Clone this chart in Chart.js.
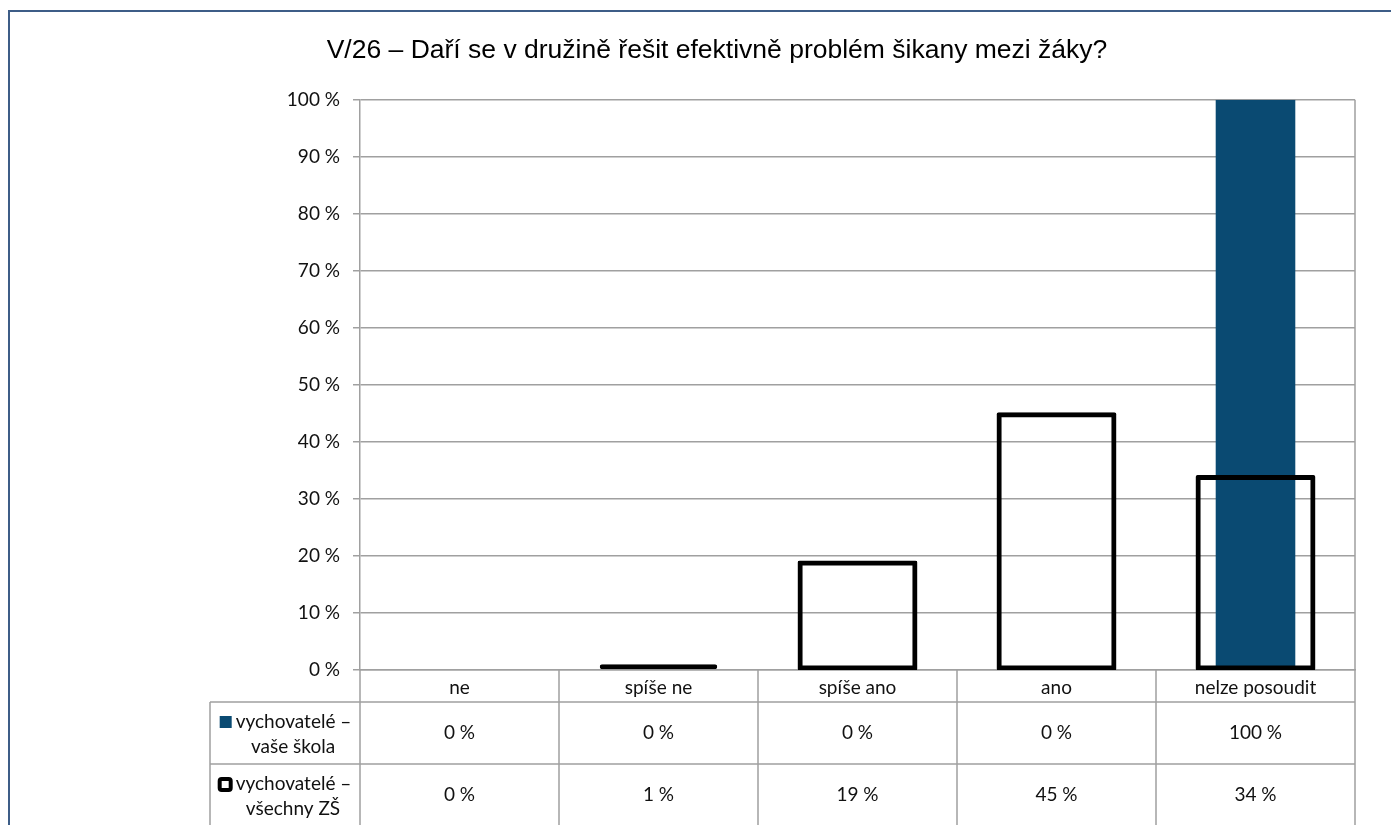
<!DOCTYPE html>
<html lang="cs">
<head>
  <meta charset="utf-8">
  <title>V/26 – šikana v družině</title>
  <script src="https://cdn.jsdelivr.net/npm/chart.js@4.4.1/dist/chart.umd.min.js"></script>
  <style>
    html, body { margin: 0; padding: 0; background: #fff; overflow: hidden; }
    canvas { display: block; }
  </style>
</head>
<body>
  <canvas id="chart-0" width="1391" height="825"></canvas>
  <script>

    const titleText = 'V/26 – Daří se v družině řešit efektivně problém šikany mezi žáky?';
    const categories = ['ne', 'spíše ne', 'spíše ano', 'ano', 'nelze posoudit'];
    const seriesSkola = ['vychovatelé –', 'vaše škola'];
    const seriesVsechny = ['vychovatelé –', 'všechny ZŠ'];
    const skolaValues = [0, 0, 0, 0, 100];
    const vsechnyValues = [0, 1, 19, 45, 34];
    const yTickValues = [0, 10, 20, 30, 40, 50, 60, 70, 80, 90, 100];

    const blue = '#0a4a72';
    const gridGray = '#a0a0a0';
    const frameBlue = '#3d5d87';
    const labelFont = 'Lato, "Noto Sans", sans-serif';
    const labelSize = 19;

    const pct = v => v + ' %';

    // frame + data table under the plot (header row is the x axis labels)
    const dataTable = {
      id: 'dataTable',
      afterDraw(chart) {
        const ctx = chart.ctx;
        const x = chart.scales.x;
        const area = chart.chartArea;
        const half = (x.getPixelForValue(1) - x.getPixelForValue(0)) / 2;
        const headBottom = area.bottom + 32;
        const row1Bottom = headBottom + 62;
        const row2Bottom = row1Bottom + 62;
        const keyLeft = 210;

        ctx.save();

        // outer chart border
        ctx.strokeStyle = frameBlue;
        ctx.lineWidth = 2;
        ctx.beginPath();
        ctx.moveTo(9, chart.height + 5);
        ctx.lineTo(9, 11);
        ctx.lineTo(chart.width + 5, 11);
        ctx.stroke();

        ctx.strokeStyle = gridGray;
        ctx.lineWidth = 1.5;
        ctx.beginPath();
        // right edge of the plot area
        ctx.moveTo(area.right, area.top);
        ctx.lineTo(area.right, area.bottom);
        // column separators
        for (let i = 0; i <= categories.length; i++) {
          const px = i < categories.length ? x.getPixelForValue(i) - half : x.getPixelForValue(i - 1) + half;
          ctx.moveTo(px, area.bottom);
          ctx.lineTo(px, row2Bottom);
        }
        ctx.moveTo(keyLeft, headBottom);
        ctx.lineTo(keyLeft, row2Bottom);
        [headBottom, row1Bottom, row2Bottom].forEach(y => {
          ctx.moveTo(keyLeft, y);
          ctx.lineTo(area.right, y);
        });
        ctx.stroke();

        ctx.font = labelSize + 'px ' + labelFont;
        ctx.fillStyle = '#111';
        ctx.textBaseline = 'middle';
        ctx.textAlign = 'center';

        const rows = [
          {values: skolaValues, top: headBottom, bottom: row1Bottom},
          {values: vsechnyValues, top: row1Bottom, bottom: row2Bottom}
        ];
        rows.forEach(r => {
          const cy = (r.top + r.bottom) / 2;
          r.values.forEach((v, i) => ctx.fillText(pct(v), x.getPixelForValue(i), cy));
        });

        // series names with legend keys
        const keyCenter = (keyLeft + area.left) / 2;
        const drawName = (lines, top, drawKey) => {
          const w = ctx.measureText(lines[0]).width;
          const start = keyCenter - (w + 17) / 2;
          drawKey(start, top + 20);
          ctx.textAlign = 'left';
          ctx.fillText(lines[0], start + 17, top + 20);
          ctx.textAlign = 'center';
          ctx.fillText(lines[1], keyCenter + 8, top + 45);
        };

        drawName(seriesSkola, headBottom, (kx, ky) => {
          ctx.fillStyle = blue;
          ctx.fillRect(kx + 1, ky - 6, 12, 12);
          ctx.fillStyle = '#111';
        });
        drawName(seriesVsechny, row1Bottom, (kx, ky) => {
          ctx.strokeStyle = '#000';
          ctx.lineWidth = 4;
          ctx.beginPath();
          ctx.roundRect(kx + 1, ky - 5, 11, 11, 2);
          ctx.stroke();
        });

        ctx.restore();
      }
    };

    // bars too short for a hollow outline are drawn solid black
    const tallEnough = c => c.raw >= 3;

    const chart = new Chart('chart-0', {
      type: 'bar',
      data: {
        labels: categories,
        datasets: [
          {
            label: seriesVsechny.join(' '),
            data: vsechnyValues,
            backgroundColor: 'rgba(0,0,0,0)',
            borderColor: '#000',
            borderWidth: c => (tallEnough(c) ? 2.5 : 5),
            // push the outline half outside the bar so it sits on the value edge
            inflateAmount: c => (tallEnough(c) ? 1.25 : 0),
            borderSkipped: false,
            borderRadius: 2,
            barPercentage: 0.59,
            categoryPercentage: 1,
            grouped: false,
            order: 0
          },
          {
            label: seriesSkola.join(' '),
            data: skolaValues,
            backgroundColor: blue,
            borderWidth: 0,
            inflateAmount: 0,
            barPercentage: 0.4,
            categoryPercentage: 1,
            grouped: false,
            order: 1
          }
        ]
      },
      options: {
        responsive: false,
        animation: false,
        layout: {
          padding: {left: 79, right: 36, top: 0, bottom: 0}
        },
        plugins: {
          legend: {display: false},
          tooltip: {enabled: false},
          title: {
            display: true,
            text: titleText,
            color: '#000',
            font: {family: '"Liberation Sans", Arial, sans-serif', size: 26.5, weight: 'normal', lineHeight: 1.2},
            padding: {top: 35, bottom: 33}
          }
        },
        scales: {
          x: {
            offset: true,
            afterFit: s => { s.height = 155; },
            grid: {display: false},
            border: {display: true, color: gridGray, width: 1.5},
            ticks: {
              color: '#111',
              padding: -2,
              font: {family: labelFont, size: labelSize}
            }
          },
          y: {
            min: 0,
            max: 100,
            afterFit: s => { s.width = 281; },
            afterBuildTicks: s => { s.ticks = yTickValues.map(v => ({value: v})); },
            grid: {color: gridGray, lineWidth: 1.5, tickLength: 7},
            border: {display: true, color: gridGray, width: 1.5},
            ticks: {
              color: '#111',
              padding: 13,
              font: {family: labelFont, size: labelSize},
              callback: v => pct(v)
            }
          }
        }
      },
      plugins: [dataTable]
    });

  </script>
</body>
</html>
